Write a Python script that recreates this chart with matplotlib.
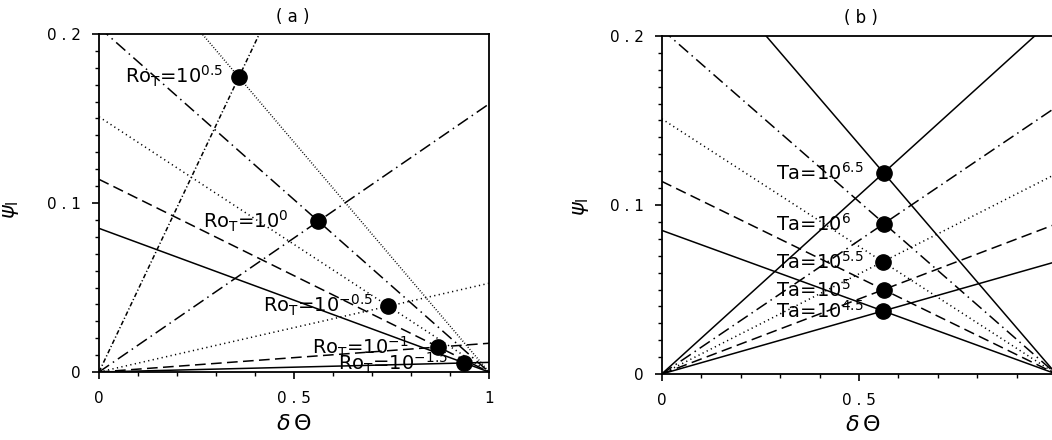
import matplotlib
matplotlib.use("Agg")
import matplotlib.pyplot as plt
import numpy as np
from matplotlib.ticker import MultipleLocator, FixedLocator, FixedFormatter

# lines through (1, 0): value of psi at dtheta = 0
dec_intercepts = [0.085, 0.114, 0.151, 0.204, 0.272]
# lines through (0, 0): slope, panel (a) Ro_T sweep
inc_slopes_a = [0.0057, 0.017, 0.0525, 0.1586, 0.4866]
# lines through (0, 0): slope, panel (b) Ta sweep
inc_slopes_b = [0.0665, 0.0888, 0.1185, 0.158, 0.2116]

ro_labels = [r"Ro$_\mathrm{T}$=10$^{-1.5}$", r"Ro$_\mathrm{T}$=10$^{-1}$",
             r"Ro$_\mathrm{T}$=10$^{-0.5}$", r"Ro$_\mathrm{T}$=10$^{0}$",
             r"Ro$_\mathrm{T}$=10$^{0.5}$"]
ta_labels = [r"Ta=10$^{4.5}$", r"Ta=10$^{5}$", r"Ta=10$^{5.5}$",
             r"Ta=10$^{6}$", r"Ta=10$^{6.5}$"]

solid = "-"
dashed = (0, (7, 3.5))
dotted = (0, (0.8, 2.2))
dashdot = (0, (8, 3, 1, 3))
fine_dot = (0, (0.6, 1.2))
fine_dashdot = (0, (3, 1.5, 0.8, 1.5))

styles_a_inc = [solid, dashed, dotted, dashdot, fine_dashdot]
styles_a_dec = [solid, dashed, dotted, dashdot, fine_dot]
styles_b = [solid, dashed, dotted, dashdot, solid]

# where the Ro_T labels start (left edge), in data units
ro_label_xy = [(0.614, 0.005), (0.545, 0.0148), (0.421, 0.0395),
               (0.267, 0.0893), (0.067, 0.175)]

plt.rcParams["font.family"] = "DejaVu Sans"

fig = plt.figure(figsize=(10.52, 4.4), dpi=100)
ax_a = fig.add_axes([99 / 1052, 1 - 372 / 440, 390 / 1052, 338 / 440])
ax_b = fig.add_axes([661.7 / 1052, 1 - 374 / 440, 394.6 / 1052, 338 / 440])

x = np.array([0.0, 1.0])


def crossing(a, s):
    xc = a / (a + s)
    return xc, s * xc


def setup(ax, xlabels):
    ax.set_xlim(0, 1)
    ax.set_ylim(0, 0.2)
    ax.xaxis.set_major_locator(FixedLocator([0, 0.5, 1]))
    ax.xaxis.set_major_formatter(FixedFormatter(xlabels))
    ax.yaxis.set_major_locator(FixedLocator([0, 0.1, 0.2]))
    ax.yaxis.set_major_formatter(FixedFormatter(["0", "0 . 1", "0 . 2"]))
    ax.xaxis.set_minor_locator(MultipleLocator(0.1))
    ax.yaxis.set_minor_locator(MultipleLocator(0.01))
    ax.tick_params(which="major", direction="out", length=5, width=1.2,
                   labelsize=11)
    ax.tick_params(axis="y", which="major", pad=8)
    ax.tick_params(axis="x", which="major", pad=9)
    ax.tick_params(which="minor", direction="out", length=3, width=1.0)
    for sp in ax.spines.values():
        sp.set_linewidth(1.3)
    ax.set_xlabel(r"$\delta\,\Theta$", fontsize=16)
    ax.set_ylabel(r"$\psi_\mathrm{I}$", fontsize=15)


# panel (a)
setup(ax_a, ["0", "0 . 5", "1"])
for a, st in zip(dec_intercepts, styles_a_dec):
    ax_a.plot(x, a * (1 - x), color="black", lw=1.1, linestyle=st)
for s, st in zip(inc_slopes_a, styles_a_inc):
    ax_a.plot(x, s * x, color="black", lw=1.1, linestyle=st)
for a, s, lab, pos in zip(dec_intercepts, inc_slopes_a, ro_labels, ro_label_xy):
    xc, yc = crossing(a, s)
    ax_a.plot(xc, yc, "o", color="black", ms=11, zorder=5, clip_on=False)
    ax_a.text(pos[0], pos[1], lab, fontsize=14, ha="left", va="center")
ax_a.set_title("( a )", fontsize=12, x=0.497, y=1.01)
ax_a.xaxis.set_label_coords(0.5, -0.125)
ax_a.yaxis.set_label_coords(-0.2, 0.48)

# panel (b)
setup(ax_b, ["0", "0 . 5", ""])
for a, st in zip(dec_intercepts, styles_b):
    ax_b.plot(x, a * (1 - x), color="black", lw=1.1, linestyle=st)
for s, st in zip(inc_slopes_b, styles_b):
    ax_b.plot(x, s * x, color="black", lw=1.1, linestyle=st)
for a, s, lab in zip(dec_intercepts, inc_slopes_b, ta_labels):
    xc, yc = crossing(a, s)
    ax_b.plot(xc, yc, "o", color="black", ms=11, zorder=5, clip_on=False)
    ax_b.text(0.29, yc, lab, fontsize=14, ha="left", va="center")
ax_b.set_title("( b )", fontsize=12, x=0.505, y=1.015)
ax_b.xaxis.set_label_coords(0.509, -0.12)
ax_b.yaxis.set_label_coords(-0.18, 0.494)

fig.savefig("out.png", dpi=100)
